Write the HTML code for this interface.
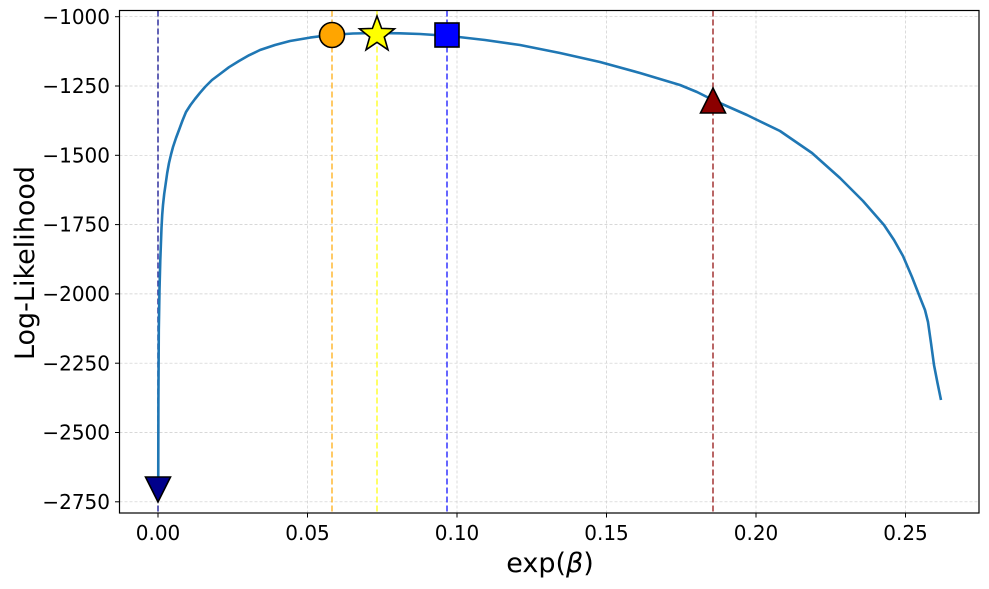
<!DOCTYPE html>
<html><head><meta charset="utf-8"><style>
html,body{margin:0;padding:0;background:#fff;}
svg{display:block;font-family:"DejaVu Sans","Liberation Sans",sans-serif;}
</style></head><body>
<svg width="989" height="589" viewBox="0 0 989 589" xmlns="http://www.w3.org/2000/svg">
<rect width="989" height="589" fill="#fff"/>
<g stroke="#cccccc" stroke-width="0.7" stroke-dasharray="3,2">
<line x1="158" y1="10.5" x2="158" y2="513"/>
<line x1="307.5" y1="10.5" x2="307.5" y2="513"/>
<line x1="457" y1="10.5" x2="457" y2="513"/>
<line x1="606.5" y1="10.5" x2="606.5" y2="513"/>
<line x1="756" y1="10.5" x2="756" y2="513"/>
<line x1="905.5" y1="10.5" x2="905.5" y2="513"/>
<line x1="119.5" y1="16.7" x2="979" y2="16.7"/>
<line x1="119.5" y1="86" x2="979" y2="86"/>
<line x1="119.5" y1="155.3" x2="979" y2="155.3"/>
<line x1="119.5" y1="224.6" x2="979" y2="224.6"/>
<line x1="119.5" y1="293.9" x2="979" y2="293.9"/>
<line x1="119.5" y1="363.2" x2="979" y2="363.2"/>
<line x1="119.5" y1="432.5" x2="979" y2="432.5"/>
<line x1="119.5" y1="501.8" x2="979" y2="501.8"/>
</g>
<g stroke-width="1.6" stroke-dasharray="6,3" fill="none">
<line x1="158" y1="10.5" x2="158" y2="513" stroke="#00008b" stroke-opacity="0.75"/>
<line x1="332" y1="10.5" x2="332" y2="513" stroke="#ffa500" stroke-opacity="0.75"/>
<line x1="377" y1="10.5" x2="377" y2="513" stroke="#ffff00" stroke-opacity="0.75"/>
<line x1="447" y1="10.5" x2="447" y2="513" stroke="#0000ff" stroke-opacity="0.75"/>
<line x1="713" y1="10.5" x2="713" y2="513" stroke="#8b0000" stroke-opacity="0.75"/>
</g>
<polyline fill="none" stroke="#1f77b4" stroke-width="2.6" stroke-linejoin="round" points="158.2,500 158.4,400 158.8,330 159.5,290 160.3,260 161.5,228 162.2,215 163,205 164.2,194 165.5,185 167.2,173 169,163 171,154.5 173,147 176,138 179,130 182.5,120.5 186,112 190.5,105 195,99 200,92.8 205,87 212,80 220,74 229,67.2 239,61 249,55.3 260,50 275,45 290,41 310,37.6 330,35 353,33.5 377,33 400,33.3 420,34 450,36 485,40 520,45 560,53 600,62 640,73 680,85 697,92 713,100 747,115 780,131 812,153 840,178 863,201 884,225 894,240 903,256 912,277 921,300 925,310 928,322 931,343 934,365 937.5,383 941,400"/>
<rect x="119.5" y="10.5" width="859.5" height="502.5" fill="none" stroke="#000" stroke-width="1.2"/>
<g stroke="#000" stroke-width="1.6">
<circle cx="332" cy="35" r="12.5" fill="#ffa500"/>
<polygon points="377,16 381.6,28.4 394.5,28.8 384.3,37 388,49.8 377,42.3 366,49.8 369.7,37 359.5,28.8 372.4,28.4" fill="#ffff00"/>
<rect x="435" y="23" width="24" height="24" fill="#0000ff"/>
<polygon points="713,88 725.5,113 700.5,113" fill="#8b0000"/>
<polygon points="145.5,477 170.5,477 158,502" fill="#00008b"/>
</g>
<g stroke="#000" stroke-width="1">
<line x1="115" y1="16.7" x2="119.5" y2="16.7"/><line x1="115" y1="86" x2="119.5" y2="86"/>
<line x1="115" y1="155.3" x2="119.5" y2="155.3"/><line x1="115" y1="224.6" x2="119.5" y2="224.6"/>
<line x1="115" y1="293.9" x2="119.5" y2="293.9"/><line x1="115" y1="363.2" x2="119.5" y2="363.2"/>
<line x1="115" y1="432.5" x2="119.5" y2="432.5"/><line x1="115" y1="501.8" x2="119.5" y2="501.8"/>
<line x1="158" y1="513" x2="158" y2="517.5"/><line x1="307.5" y1="513" x2="307.5" y2="517.5"/>
<line x1="457" y1="513" x2="457" y2="517.5"/><line x1="606.5" y1="513" x2="606.5" y2="517.5"/>
<line x1="756" y1="513" x2="756" y2="517.5"/><line x1="905.5" y1="513" x2="905.5" y2="517.5"/>
</g>
<g font-size="20" fill="#000" text-anchor="end">
<text x="110" y="23.8">−1000</text><text x="110" y="93.1">−1250</text>
<text x="110" y="162.4">−1500</text><text x="110" y="231.7">−1750</text>
<text x="110" y="301">−2000</text><text x="110" y="370.3">−2250</text>
<text x="110" y="439.6">−2500</text><text x="110" y="508.9">−2750</text>
</g>
<g font-size="20" fill="#000" text-anchor="middle">
<text x="158" y="540">0.00</text><text x="307.5" y="540">0.05</text>
<text x="457" y="540">0.10</text><text x="606.5" y="540">0.15</text>
<text x="756" y="540">0.20</text><text x="905.5" y="540">0.25</text>
</g>
<text x="550" y="572" font-size="27" text-anchor="middle">exp(<tspan font-style="italic">β</tspan>)</text>
<text transform="translate(34,263) rotate(-90)" font-size="27" text-anchor="middle">Log-Likelihood</text>
</svg>
</body></html>
